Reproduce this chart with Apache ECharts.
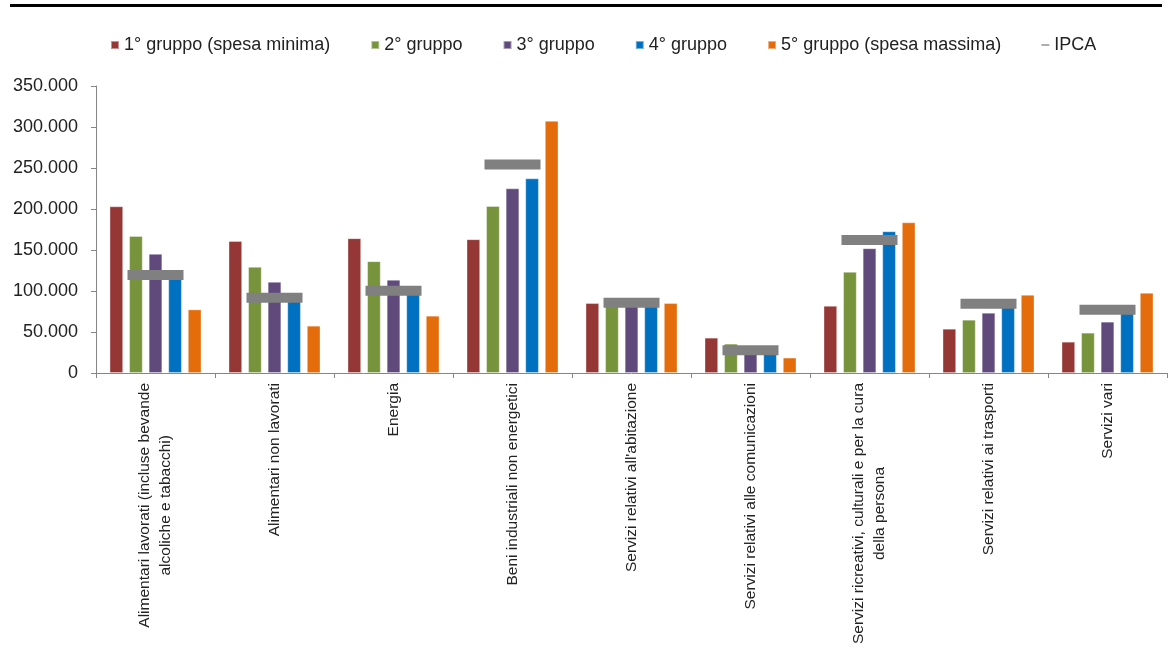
<!DOCTYPE html>
<html>
<head>
<meta charset="utf-8">
<script src="https://cdn.jsdelivr.net/npm/echarts@6/dist/echarts.min.js"></script>
<style>
  html, body { margin: 0; padding: 0; background: #fff; }
  #chart { width: 1170px; height: 664px; }
</style>
</head>
<body>
<div id="chart"></div>
<script>
const categories = [
  "Alimentari lavorati (incluse bevande\nalcoliche e tabacchi)",
  "Alimentari non lavorati",
  "Energia",
  "Beni industriali non energetici",
  "Servizi relativi all'abitazione",
  "Servizi relativi alle comunicazioni",
  "Servizi ricreativi, culturali e per la cura\ndella persona",
  "Servizi relativi ai trasporti",
  "Servizi vari"
];
const seriesNames = ["1° gruppo (spesa minima)", "2° gruppo", "3° gruppo", "4° gruppo", "5° gruppo (spesa massima)", "IPCA"];
const gruppo1 = [203200, 161000, 164300, 163100, 85200, 43000, 81900, 53900, 38100];
const gruppo2 = [167100, 129400, 136300, 203600, 84000, 35700, 123300, 64900, 49100];
const gruppo3 = [145200, 111100, 113600, 225100, 83000, 27000, 152100, 73400, 62500];
const gruppo4 = [117000, 90000, 98000, 237300, 82000, 26000, 172800, 82000, 74000];
const gruppo5 = [77500, 57600, 69800, 307400, 85200, 18700, 183700, 95300, 97700];
const ipca = [119600, 91700, 100200, 254300, 85600, 27600, 162200, 84400, 77100];

const colors = ["#953735", "#77933C", "#604A7B", "#0070C0", "#E46C0A", "#808080"];
const FONT = "'Liberation Sans', Arial, sans-serif";

const chart = echarts.init(document.getElementById('chart'), null, { renderer: 'canvas' });

function barSeries(name, data, color) {
  return {
    name: name,
    type: 'bar',
    data: data,
    barWidth: 13.5,
    barGap: '45%',
    itemStyle: { color: color, borderColor: 'rgba(255,255,255,0.45)', borderWidth: 0.8 },
    emphasis: { disabled: true },
    z: 2
  };
}

const option = {
  animation: false,
  backgroundColor: '#ffffff',
  graphic: [{
    type: 'rect',
    shape: { x: 10, y: 4, width: 1152, height: 3 },
    style: { fill: '#000000' },
    silent: true
  }],
  legend: {
    left: 105,
    top: 31,
    itemWidth: 8,
    itemHeight: 8,
    itemGap: 40,
    textStyle: { fontSize: 18, fontFamily: FONT, color: '#222222' },
    data: [
      { name: seriesNames[0], icon: 'rect' },
      { name: seriesNames[1], icon: 'rect' },
      { name: seriesNames[2], icon: 'rect' },
      { name: seriesNames[3], icon: 'rect' },
      { name: seriesNames[4], icon: 'rect' },
      { name: seriesNames[5], icon: 'path://M0,0 L10,0 L10,1.6 L0,1.6 Z' }
    ]
  },
  grid: { left: 96, right: 3, top: 86, bottom: 291, containLabel: false },
  xAxis: {
    type: 'category',
    data: categories,
    axisLine: { show: true, lineStyle: { color: '#868686', width: 1 } },
    axisTick: { show: true, length: 5, lineStyle: { color: '#868686' } },
    axisLabel: {
      interval: 0,
      rotate: 90,
      margin: 10,
      formatter: function (v) {
        return v.split('\n').map(function (s) { return '{c|' + s + '}'; }).join('\n');
      },
      rich: {
        c: { align: 'center', fontSize: 15.5, lineHeight: 21, fontFamily: FONT, color: '#222222' }
      }
    }
  },
  yAxis: {
    type: 'value',
    min: 0,
    max: 350000,
    interval: 50000,
    splitLine: { show: false },
    axisLine: { show: true, lineStyle: { color: '#868686', width: 1 } },
    axisTick: { show: true, length: 5, lineStyle: { color: '#868686' } },
    axisLabel: {
      margin: 18,
      fontSize: 18,
      fontFamily: FONT,
      color: '#222222',
      formatter: function (v) {
        return v === 0 ? '0' : v.toLocaleString('it-IT').replace(/,/g, '.');
      }
    }
  },
  series: [
    barSeries(seriesNames[0], gruppo1, colors[0]),
    barSeries(seriesNames[1], gruppo2, colors[1]),
    barSeries(seriesNames[2], gruppo3, colors[2]),
    barSeries(seriesNames[3], gruppo4, colors[3]),
    barSeries(seriesNames[4], gruppo5, colors[4]),
    {
      name: seriesNames[5],
      type: 'scatter',
      data: ipca,
      symbol: 'rect',
      symbolSize: [56, 10],
      itemStyle: { color: colors[5], opacity: 1 },
      emphasis: { disabled: true },
      z: 5
    }
  ]
};
chart.setOption(option);
</script>
</body>
</html>
